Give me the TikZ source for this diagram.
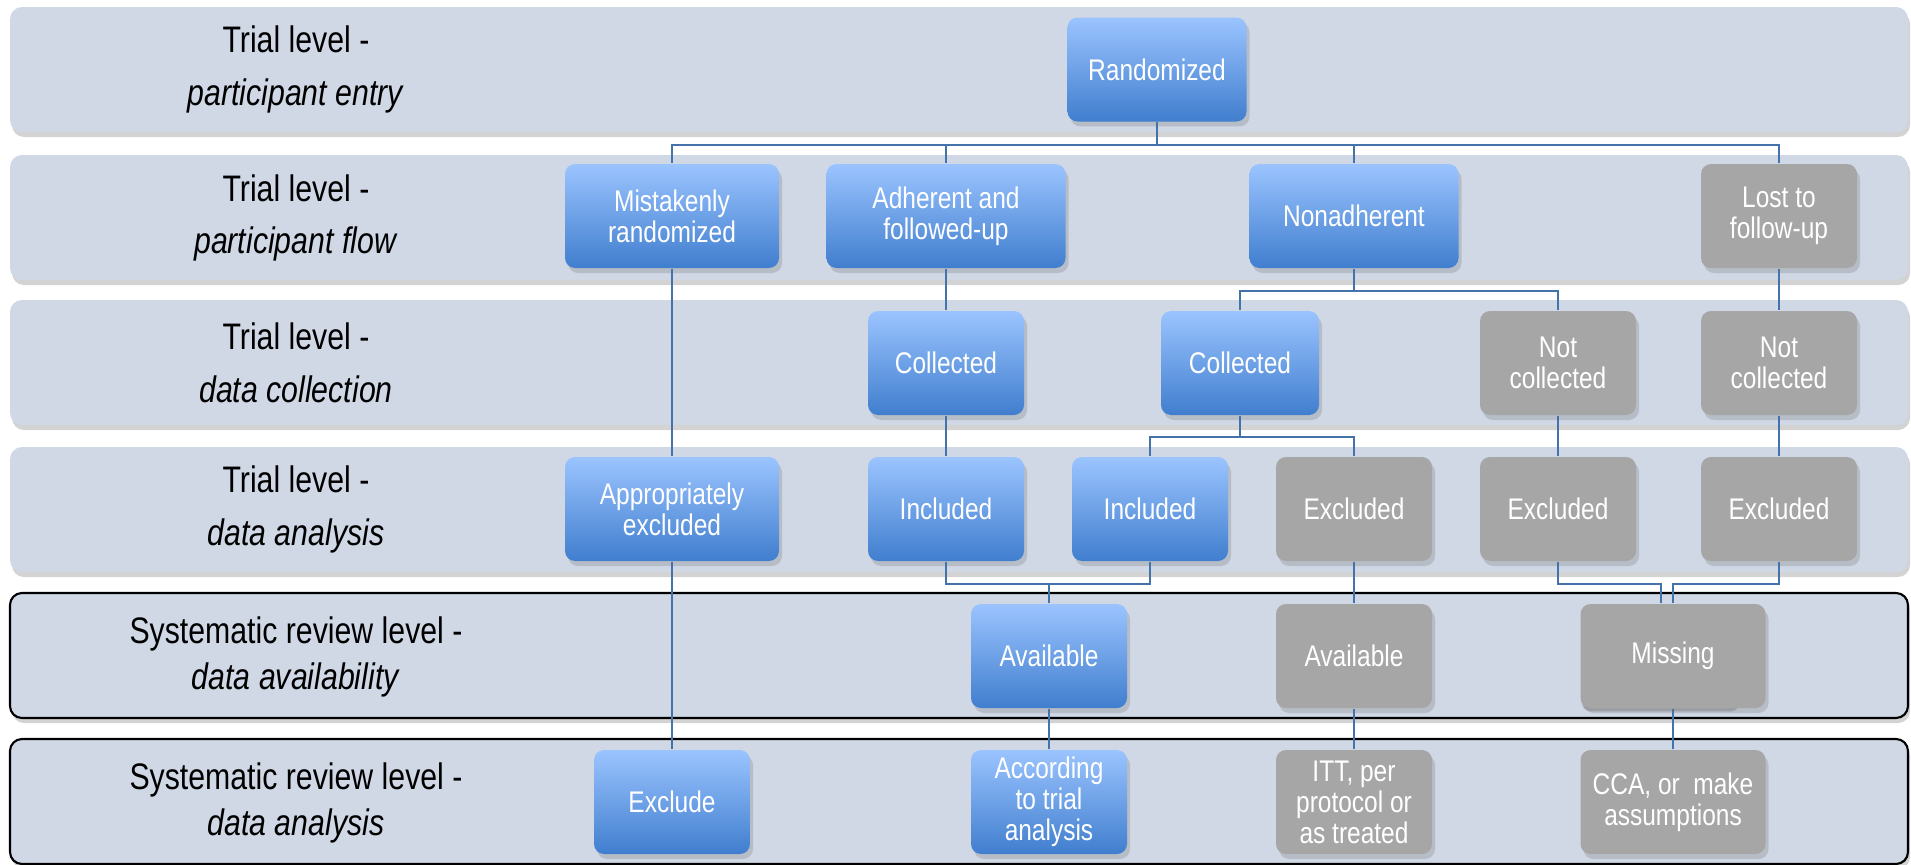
\documentclass[tikz,border=0pt]{standalone}
\usepackage{fontspec}
\setmainfont[FakeStretch=0.82]{Liberation Sans}
\usetikzlibrary{shadows}
\definecolor{bandc}{RGB}{208,216,230}
\definecolor{boxtop}{RGB}{155,196,255}
\definecolor{boxbot}{RGB}{64,126,206}
\definecolor{boxgrey}{RGB}{166,166,166}
\definecolor{linkc}{RGB}{68,114,170}

\begin{document}
\begin{tikzpicture}[x=0.1mm,y=-0.1mm,
    box/.style={rounded corners=1mm, minimum width=15.6mm, minimum height=10.4mm,
      inner sep=1pt, align=center, text=white, font=\fontsize{8.5}{8.8}\selectfont,
      drop shadow={opacity=0.3, shadow xshift=0.3mm, shadow yshift=-0.5mm}},
    bluebox/.style={box, top color=boxtop, bottom color=boxbot},
    greybox/.style={box, fill=boxgrey},
    band/.style={fill=bandc, rounded corners=1.2mm,
      drop shadow={opacity=0.35, shadow xshift=0.2mm, shadow yshift=-0.5mm}},
    lvl/.style={align=center, font=\fontsize{10.5}{15}\selectfont},
    srlvl/.style={lvl, font=\fontsize{10.5}{13.2}\selectfont},
    link/.style={draw=linkc, line width=0.55pt}]
  \useasboundingbox (0,0) rectangle (1911,865);

  % bands
  \foreach \t in {7,155,300,447}
    \path[band] (10,\t) rectangle (1908,\t+125);
  \foreach \t in {593,739}
    \path[band, draw=black, line width=0.6pt] (10,\t) rectangle (1908,\t+125);

  % level labels
  \node[lvl] (lvlA) at (296,69.5) {Trial level -\\\textit{participant entry}};
  \node[lvl] (lvlB) at (296,218) {Trial level -\\\textit{participant flow}};
  \node[lvl] (lvlC) at (296,362.5) {Trial level -\\\textit{data collection}};
  \node[lvl] (lvlD) at (296,509.5) {Trial level -\\\textit{data analysis}};
  \node[srlvl] (lvlE) at (296,657) {Systematic review level -\\\textit{data availability}};
  \node[srlvl] (lvlF) at (296,803) {Systematic review level -\\\textit{data analysis}};

  % participant entry / flow
  \node[bluebox, minimum width=17.9mm] (rand) at (1157,69.5) {Randomized};
  \node[bluebox, minimum width=21.4mm] (mistake) at (672,216) {Mistakenly\\randomized};
  \node[bluebox, minimum width=23.9mm] (adher) at (946,216) {Adherent and\\followed-up};
  \node[bluebox, minimum width=20.9mm] (nonadh) at (1354,216) {Nonadherent};
  \node[greybox] (lost) at (1779,216) {Lost to\\follow-up};

  % data collection
  \node[bluebox] (coll) at (946,363) {Collected};
  \node[bluebox, minimum width=15.8mm] (collB) at (1240,363) {Collected};
  \node[greybox] (notcoll) at (1558,363) {Not\\collected};
  \node[greybox] (notcollB) at (1779,363) {Not\\collected};

  % data analysis
  \node[bluebox, minimum width=21.4mm] (approp) at (672,509) {Appropriately\\excluded};
  \node[bluebox] (incl) at (946,509) {Included};
  \node[bluebox] (inclB) at (1150,509) {Included};
  \node[greybox] (excl) at (1354,509) {Excluded};
  \node[greybox] (exclB) at (1558,509) {Excluded};
  \node[greybox] (exclC) at (1779,509) {Excluded};

  % review level
  \node[bluebox] (avail) at (1049,656) {Available};
  \node[greybox] (availB) at (1354,656) {Available};
  \node[greybox, minimum width=18.5mm,
    drop shadow={opacity=0.5, shadow scale=0.85, shadow xshift=-1.45mm, shadow yshift=-1.3mm}] (missing) at (1673,656) {Missing};
  \node[bluebox] (exclude) at (672,802) {Exclude};
  \node[bluebox] (accord) at (1049,802) {According\\to trial\\analysis};
  \node[greybox] (itt) at (1354,802) {ITT, per\\protocol or\\as treated};
  \node[greybox, minimum width=18.5mm] (cca) at (1673,802) {CCA, or\ \ make\\assumptions};

  % connectors
  \foreach \n in {mistake,adher,nonadh,lost}
    \draw[link] (rand.south) -- ++(0,23) -| (\n.north);
  \draw[link] (adher) -- (coll);
  \draw[link] (nonadh.south) -- ++(0,22) -| (collB.north);
  \draw[link] (nonadh.south) -- ++(0,22) -| (notcoll.north);
  \draw[link] (lost) -- (notcollB);
  \draw[link] (coll) -- (incl);
  \draw[link] (collB.south) -- ++(0,21) -| (inclB.north);
  \draw[link] (collB.south) -- ++(0,21) -| (excl.north);
  \draw[link] (notcoll) -- (exclB);
  \draw[link] (notcollB) -- (exclC);
  \draw[link] (mistake) -- (approp);
  \draw[link] (approp) -- (exclude);
  \draw[link] (incl.south) -- ++(0,22) coordinate (inbus) -| (inclB.south);
  \draw[link] (avail.north) -- (avail.north |- inbus);
  \draw[link] (excl) -- (availB);
  \draw[link] (exclB.south) -- ++(0,22) -| ([xshift=-1.2mm]missing.north);
  \draw[link] (exclC.south) -- ++(0,22) -| (missing.north);
  \draw[link] (avail) -- (accord);
  \draw[link] (availB) -- (itt);
  \draw[link] (missing) -- (cca);
\end{tikzpicture}
\end{document}
